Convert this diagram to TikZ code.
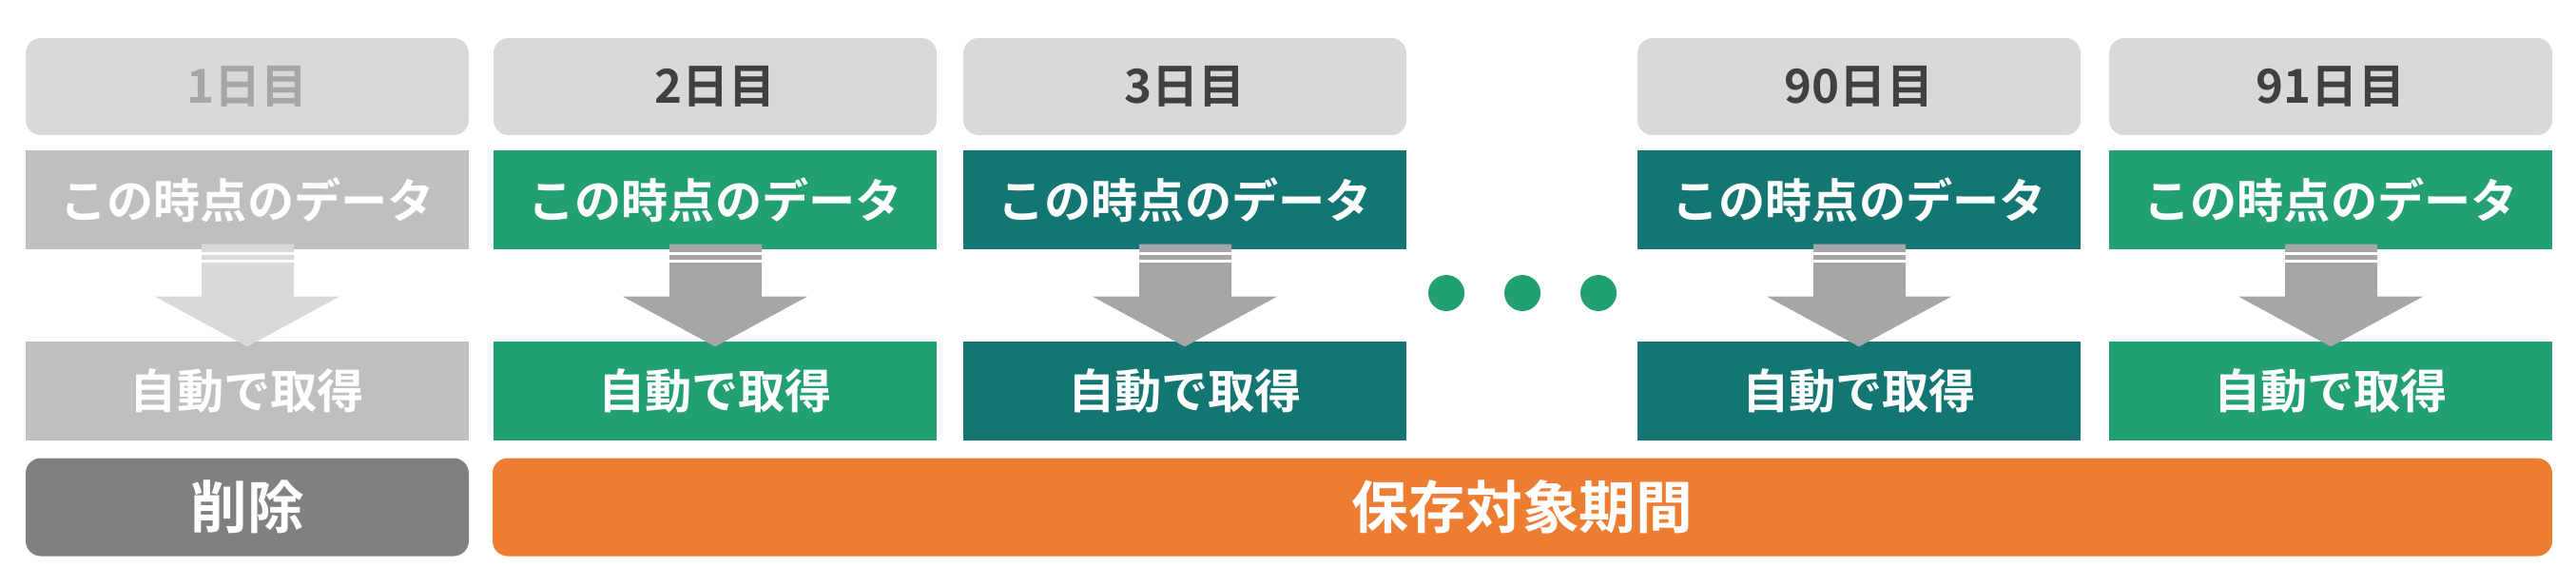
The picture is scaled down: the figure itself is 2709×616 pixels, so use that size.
\documentclass[tikz,border=0pt]{standalone}
\usepackage{fontspec}
\setmainfont{Noto Sans CJK JP Bold}
\usetikzlibrary{positioning,calc}
\definecolor{hdrgray}{HTML}{D9D9D9}
\definecolor{oldgray}{HTML}{BFBFBF}
\definecolor{arrgray}{HTML}{A6A6A6}
\definecolor{delgray}{HTML}{808080}
\definecolor{dkgreen}{HTML}{23A072}
\definecolor{dkteal}{HTML}{137672}
\definecolor{keeporange}{HTML}{ED7D31}
\definecolor{hdrtext}{HTML}{404040}
\tikzstyle{dayhdr} = [fill=hdrgray,rounded corners=1.6mm,minimum width=46.6mm,minimum height=10.2mm,
    text=hdrtext,font=\fontsize{14}{14}\selectfont,inner sep=0pt]
\tikzstyle{databox} = [minimum width=46.6mm,minimum height=10.4mm,text=white,
    font=\fontsize{14}{14}\selectfont,inner sep=0pt]
\tikzstyle{barbox} = [rounded corners=1.6mm,minimum height=10.3mm,text=white,
    font=\fontsize{17}{17}\selectfont,inner sep=0pt]
\newcommand{\daycol}[5]{
    \node(hdr#1) at (#2,91) [dayhdr,text=#5] {#3日目};
    \node(data#1) at (#2,210) [databox,fill=#4] {この時点のデータ};
    \node(auto#1) at (#2,411) [databox,fill=#4] {自動で取得};
}
\newcommand{\dataarrow}[2]{
    \fill[#2] ($(data#1.south)+(-48,-6)$) -- ++(97,0) -- ++(0,55) -- ++(48,0)
        -- ($(auto#1.north)+(0,6)$) -- ($(data#1.south)+(-97,49)$) -- ++(49,0) -- cycle;
    \draw[white,line width=0.25mm] ($(data#1.south)+(-49,4)$) -- ++(99,0);
    \draw[white,line width=0.25mm] ($(data#1.south)+(-49,12)$) -- ++(99,0);
}
\begin{document}
\begin{tikzpicture}[x=0.1mm,y=-0.1mm]
    \useasboundingbox (0,0) rectangle (2709,616);
    \daycol{1}{260}{1}{oldgray}{arrgray};
    \daycol{2}{752}{2}{dkgreen}{hdrtext};
    \daycol{3}{1246}{3}{dkteal}{hdrtext};
    \daycol{4}{1955}{90}{dkteal}{hdrtext};
    \daycol{5}{2451}{91}{dkgreen}{hdrtext};

    \dataarrow{1}{hdrgray};
    \foreach \c in {2,3,4,5} {\dataarrow{\c}{arrgray};}

    % dots between day 3 and day 90
    \foreach \x [count=\i] in {1521,1601,1681}
        \fill[dkgreen] (\x,308) circle (19);

    \node(del) at (260,533) [barbox,fill=delgray,minimum width=46.6mm] {削除};
    \node(keep) at (1601,533) [barbox,fill=keeporange,minimum width=216.6mm] {保存対象期間};
\end{tikzpicture}
\end{document}
